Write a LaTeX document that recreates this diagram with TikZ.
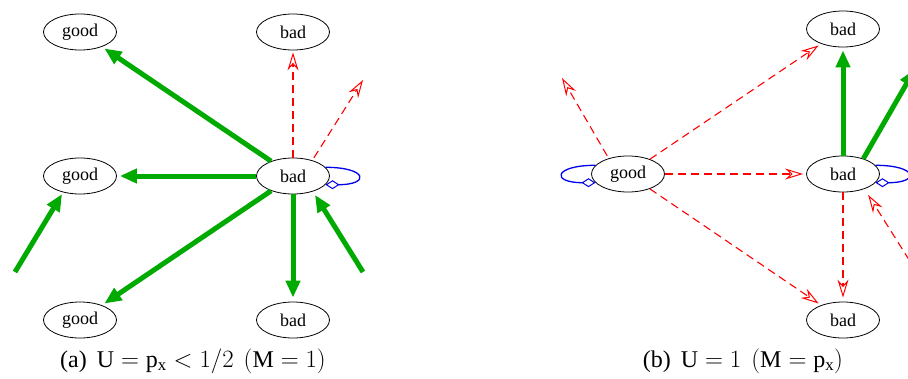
\documentclass[tikz,border=0pt]{standalone}
\usepackage{fontspec}
\setmainfont{Liberation Serif}
\usetikzlibrary{arrows.meta,shapes.geometric}
\definecolor{gr}{RGB}{0,170,0}
\definecolor{rd}{RGB}{255,0,0}
\definecolor{bl}{RGB}{0,0,235}
\begin{document}
\begin{tikzpicture}[x=1pt,y=-1pt,
  st/.style={draw,ellipse,minimum width=73pt,minimum height=36pt,inner sep=0pt,line width=0.8pt,font=\fontsize{18}{20}\selectfont},
  garr/.style={draw=gr,line width=5pt,-{Triangle[length=17pt,width=14pt]},shorten >=3pt},
  rarr/.style={draw=rd,line width=1.1pt,dash pattern=on 8pt off 5pt,-{Stealth[open,length=18pt,width=11pt,inset=6pt,line width=1pt]},shorten >=3pt},
  bloop/.style={draw=bl,line width=1.3pt,-{Diamond[open,length=14pt,width=9pt,line width=1pt]}},
  captext/.style={font=\fontsize{24}{28}\selectfont,inner sep=0pt}]
\useasboundingbox (0,0) rectangle (908,378);
\clip (0,0) rectangle (908,378);
% left panel
\node[st] (gt) at (80,32) {good};
\node[st] (bt) at (293,32) {bad};
\node[st] (gm) at (80,176) {good};
\node[st] (bm) at (293,176) {bad};
\node[st] (gb) at (80,320) {good};
\node[st] (bb) at (293,320) {bad};
\coordinate (fa) at (15,272);
\coordinate (fb) at (363,272);
\coordinate (fc) at (363,80);
\draw[garr] (bm) -- (gt);
\draw[garr] (bm) -- (gm);
\draw[garr] (bm) -- (gb);
\draw[garr,shorten >=4pt] (bm) -- (bb);
\draw[garr,shorten >=2pt] (fa) -- (gm.224);
\draw[garr,shorten >=4pt] (fb) -- (bm.-38);
\draw[rarr,shorten >=2pt] (bm) -- (bt);
\draw[rarr,shorten >=0pt,shorten <=3pt] (bm.39) -- (fc);
\draw[bloop] (bm.15) .. controls +(42,0) and +(45,0) .. (bm.-15);
% right panel
\node[st] (ng) at (628,174) {good};
\node[st] (nbt) at (843,29) {bad};
\node[st] (nbm) at (843,174) {bad};
\node[st] (nbb) at (843,320) {bad};
\coordinate (fd) at (562,78);
\coordinate (fe) at (915,69);
\coordinate (ff) at (930,293);
\draw[rarr,shorten >=0pt,shorten <=3pt] (ng.141) -- (fd);
\draw[rarr] (ng) -- (nbt);
\draw[rarr] (ng) -- (nbm);
\draw[rarr] (ng) -- (nbb);
\draw[rarr,shorten >=4pt] (nbm) -- (nbb);
\draw[rarr,shorten >=7pt] (ff) -- (nbm.-35);
\draw[garr] (nbm) -- (nbt);
\draw[garr,shorten >=0pt] (nbm.37) -- (fe);
\draw[bloop] (ng.165) .. controls +(-42,0) and +(-45,0) .. (ng.-165);
\draw[bloop] (nbm.15) .. controls +(42,0) and +(45,0) .. (nbm.-15);
% captions
\node[captext] (capa) at (193,361) {(a)\, $\mathrm{U} = \mathrm{p}_\mathrm{x} < 1/2$\, $(\mathrm{M} = 1)$};
\node[captext] (capb) at (743,361) {(b)\, $\mathrm{U} = 1$\, $(\mathrm{M} = \mathrm{p}_\mathrm{x})$};
\end{tikzpicture}
\end{document}
